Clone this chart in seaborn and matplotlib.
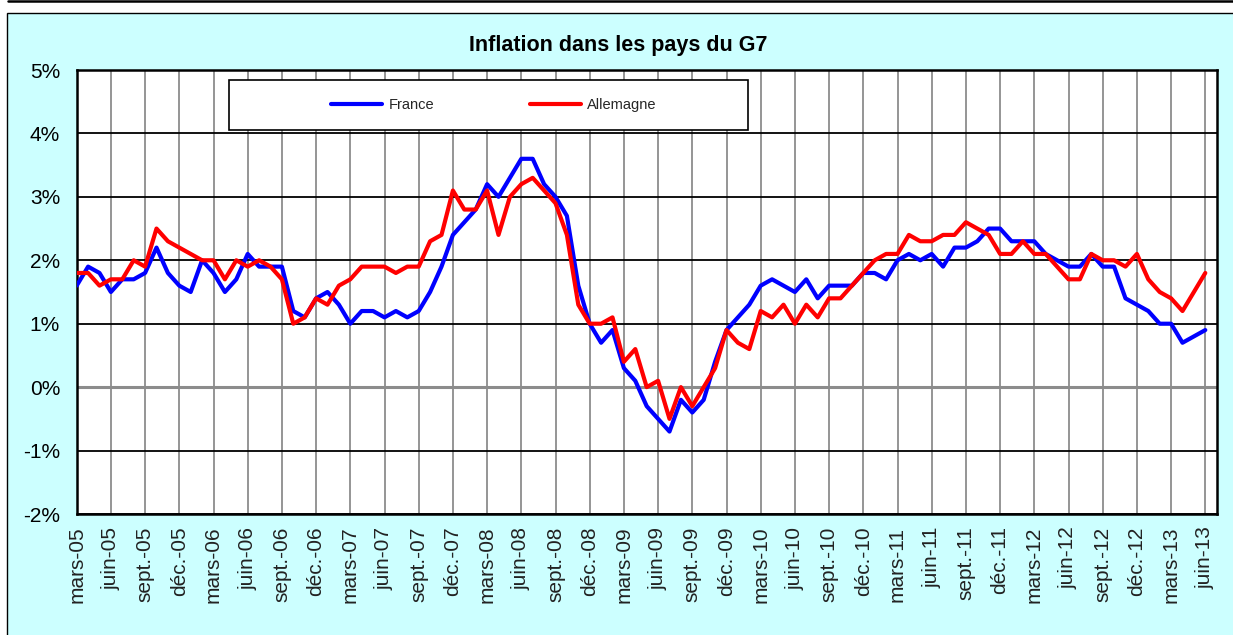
import numpy as np
import pandas as pd
import matplotlib
matplotlib.use("Agg")
import matplotlib.pyplot as plt
import seaborn as sns
from matplotlib.patches import Rectangle
from matplotlib.lines import Line2D

# ---- data (monthly inflation, mars-05 .. juin-13) ----
france = [1.6, 1.9, 1.8, 1.5, 1.7, 1.7, 1.8, 2.2, 1.8, 1.6,
          1.5, 2.0, 1.8, 1.5, 1.7, 2.1, 1.9, 1.9, 1.9, 1.2,
          1.1, 1.4, 1.5, 1.3, 1.0, 1.2, 1.2, 1.1, 1.2, 1.1,
          1.2, 1.5, 1.9, 2.4, 2.6, 2.8, 3.2, 3.0, 3.3, 3.6,
          3.6, 3.2, 3.0, 2.7, 1.6, 1.0, 0.7, 0.9, 0.3, 0.1,
          -0.3, -0.5, -0.7, -0.2, -0.4, -0.2, 0.4, 0.9, 1.1, 1.3,
          1.6, 1.7, 1.6, 1.5, 1.7, 1.4, 1.6, 1.6, 1.6, 1.8,
          1.8, 1.7, 2.0, 2.1, 2.0, 2.1, 1.9, 2.2, 2.2, 2.3,
          2.5, 2.5, 2.3, 2.3, 2.3, 2.1, 2.0, 1.9, 1.9, 2.1,
          1.9, 1.9, 1.4, 1.3, 1.2, 1.0, 1.0, 0.7, 0.8, 0.9]

allemagne = [1.8, 1.8, 1.6, 1.7, 1.7, 2.0, 1.9, 2.5, 2.3, 2.2,
             2.1, 2.0, 2.0, 1.7, 2.0, 1.9, 2.0, 1.9, 1.7, 1.0,
             1.1, 1.4, 1.3, 1.6, 1.7, 1.9, 1.9, 1.9, 1.8, 1.9,
             1.9, 2.3, 2.4, 3.1, 2.8, 2.8, 3.1, 2.4, 3.0, 3.2,
             3.3, 3.1, 2.9, 2.4, 1.3, 1.0, 1.0, 1.1, 0.4, 0.6,
             0.0, 0.1, -0.5, 0.0, -0.3, 0.0, 0.3, 0.9, 0.7, 0.6,
             1.2, 1.1, 1.3, 1.0, 1.3, 1.1, 1.4, 1.4, 1.6, 1.8,
             2.0, 2.1, 2.1, 2.4, 2.3, 2.3, 2.4, 2.4, 2.6, 2.5,
             2.4, 2.1, 2.1, 2.3, 2.1, 2.1, 1.9, 1.7, 1.7, 2.1,
             2.0, 2.0, 1.9, 2.1, 1.7, 1.5, 1.4, 1.2, 1.5, 1.8]

series_names = ["France", "Allemagne"]
series_colors = ["#0000FF", "#FF0000"]

tick_labels = ["mars-05", "juin-05", "sept.-05", "déc.-05",
               "mars-06", "juin-06", "sept.-06", "déc.-06",
               "mars-07", "juin-07", "sept.-07", "déc.-07",
               "mars-08", "juin-08", "sept.-08", "déc.-08",
               "mars-09", "juin-09", "sept.-09", "déc.-09",
               "mars-10", "juin-10", "sept.-10", "déc.-10",
               "mars-11", "juin-11", "sept.-11", "déc.-11",
               "mars-12", "juin-12", "sept.-12", "déc.-12",
               "mars-13", "juin-13"]
y_ticks = [-2, -1, 0, 1, 2, 3, 4, 5]
y_tick_labels = ["-2%", "-1%", "0%", "1%", "2%", "3%", "4%", "5%"]
title = "Inflation dans les pays du G7"

# ---- build table ----
n = len(france)
idx = np.arange(n)
df = pd.DataFrame({
    "mois": np.concatenate([idx, idx]),
    "inflation": np.concatenate([france, allemagne]),
    "pays": [series_names[0]] * n + [series_names[1]] * n,
})

sns.set_style("white")
plt.rcParams["font.family"] = ["Liberation Sans", "DejaVu Sans"]

W, H = 1233, 635
fig = plt.figure(figsize=(W / 100, H / 100), dpi=100)
fig.patch.set_facecolor("white")

# outer frame (cyan chart area) and top line of previous box
fig.patches.append(Rectangle((7 / W, -20 / H), (W + 20 - 7) / W, (H - 13 + 20) / H,
                             transform=fig.transFigure, facecolor="#CCFFFF",
                             edgecolor="black", linewidth=1.0, zorder=-5))
fig.add_artist(Line2D([8 / W, 1.0], [1 - 1.2 / H, 1 - 1.2 / H], transform=fig.transFigure,
                      color="black", linewidth=1.8, zorder=-4))

left, right = 76.7 / W, 1216.7 / W
bottom, top = 1 - 514 / H, 1 - 70 / H
ax = fig.add_axes([left, bottom, right - left, top - bottom])
ax.set_zorder(2)
ax.set_facecolor("white")

# gridlines
ax.set_xlim(0, 100)
ax.set_ylim(-2, 5)
xt = np.arange(0, n, 3)
ax.set_xticks(xt)
ax.set_xticklabels(tick_labels, rotation=90, fontsize=15, color="#222222")
ax.set_yticks(y_ticks)
ax.set_yticklabels(y_tick_labels, fontsize=15, color="black")
ax.xaxis.grid(True, color="#8C8C8C", linewidth=1.3, zorder=0)
ax.yaxis.grid(True, color="black", linewidth=1.3, zorder=0)
ax.set_axisbelow(True)
ax.axhline(0, color="#8C8C8C", linewidth=2.2, zorder=1)

sns.lineplot(data=df, x="mois", y="inflation", hue="pays",
             hue_order=series_names, palette=series_colors,
             linewidth=3.0, ax=ax, legend=False, zorder=3)

ax.set_xlabel("")
ax.set_ylabel("")
for s in ax.spines.values():
    s.set_color("black")
    s.set_linewidth(1.8)
ax.tick_params(axis="x", length=0, pad=9)
ax.tick_params(axis="y", length=4.5, width=1.3, color="black", direction="out", pad=7.5)

# legend box
ax.add_patch(Rectangle((228.6 / W, 1 - 130 / H), 519 / W, 50 / H, transform=fig.transFigure,
                       facecolor="white", edgecolor="black", linewidth=1.2,
                       zorder=8, clip_on=False))
handles = [Line2D([], [], color=c, linewidth=3.0) for c in series_colors]
leg = ax.legend(handles, series_names, loc="center",
                bbox_to_anchor=(494 / W, 1 - 105 / H), bbox_transform=fig.transFigure,
                ncol=2, frameon=False, fontsize=10.5, handlelength=3.5,
                handletextpad=0.4, columnspacing=6.6)
leg.set_zorder(10)

fig.text(618 / W, 1 - 45 / H, title, ha="center", va="center",
         fontsize=15.5, fontweight="bold", color="black")

fig.savefig("out.png", dpi=100, facecolor=fig.get_facecolor())
